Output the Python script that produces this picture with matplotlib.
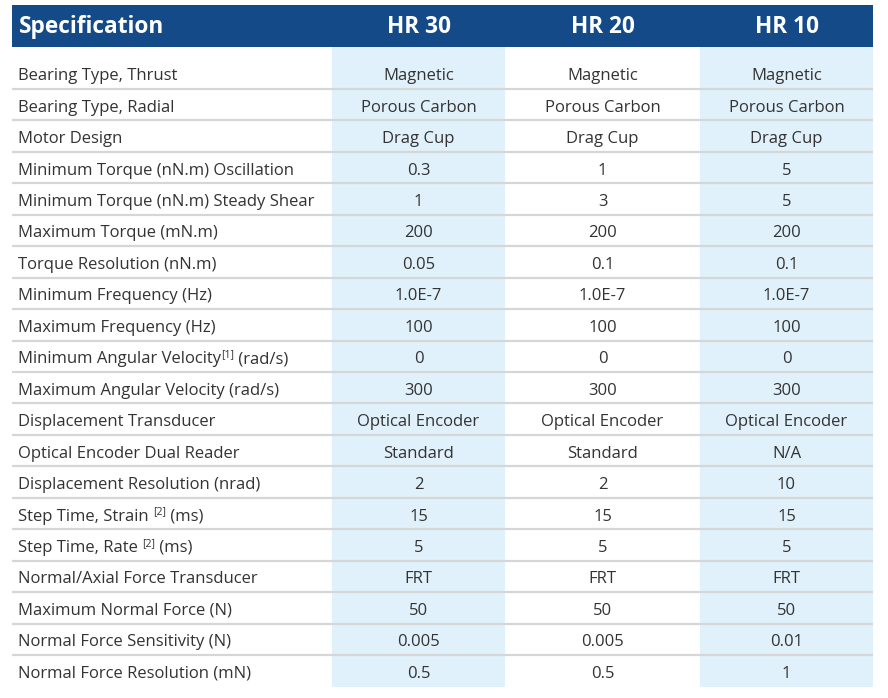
import matplotlib
matplotlib.use("Agg")
import matplotlib.pyplot as plt
from matplotlib.patches import Rectangle

# table content
headers = ["Specification", "HR 30", "HR 20", "HR 10"]
specs = [
    "Bearing Type, Thrust",
    "Bearing Type, Radial",
    "Motor Design",
    "Minimum Torque (nN.m) Oscillation",
    "Minimum Torque (nN.m) Steady Shear",
    "Maximum Torque (mN.m)",
    "Torque Resolution (nN.m)",
    "Minimum Frequency (Hz)",
    "Maximum Frequency (Hz)",
    "Minimum Angular Velocity|[1]| (rad/s)",
    "Maximum Angular Velocity (rad/s)",
    "Displacement Transducer",
    "Optical Encoder Dual Reader",
    "Displacement Resolution (nrad)",
    "Step Time, Strain |[2]| (ms)",
    "Step Time, Rate |[2]| (ms)",
    "Normal/Axial Force Transducer",
    "Maximum Normal Force (N)",
    "Normal Force Sensitivity (N)",
    "Normal Force Resolution (mN)",
]
hr30 = ["Magnetic", "Porous Carbon", "Drag Cup", "0.3", "1", "200", "0.05", "1.0E-7",
        "100", "0", "300", "Optical Encoder", "Standard", "2", "15", "5", "FRT", "50",
        "0.005", "0.5"]
hr20 = ["Magnetic", "Porous Carbon", "Drag Cup", "1", "3", "200", "0.1", "1.0E-7",
        "100", "0", "300", "Optical Encoder", "Standard", "2", "15", "5", "FRT", "50",
        "0.005", "0.5"]
hr10 = ["Magnetic", "Porous Carbon", "Drag Cup", "5", "5", "200", "0.1", "1.0E-7",
        "100", "0", "300", "Optical Encoder", "N/A", "10", "15", "5", "FRT", "50",
        "0.01", "1"]

HEADER_BG = "#154a89"
BLUE_BG = "#e0f1fb"
LINE = "#d6d6d6"
TXT = "#333333"
FONT = "Open Sans"

W, H = 888, 698
fig = plt.figure(figsize=(W / 100, H / 100), dpi=100)
ax = fig.add_axes([0, 0, 1, 1])
ax.set_xlim(0, W)
ax.set_ylim(H, 0)
ax.axis("off")

x_left, x_right = 12, 873
col_edges = [x_left, 332, 505, 700, x_right]
col_centers = [(col_edges[i] + col_edges[i + 1]) / 2 for i in range(1, 4)]
head_top, head_bot = 5, 47
row_top = 57.5
row_h = 31.45
n = len(specs)
table_bot = row_top + n * row_h

# header bar
ax.add_patch(Rectangle((x_left, head_top), x_right - x_left, head_bot - head_top,
                       color=HEADER_BG, lw=0))
head_base = 33
ax.text(19, head_base, headers[0], color="white", fontsize=16.3,
        fontweight="bold", family=FONT, ha="left", va="baseline")
for cx, h in zip(col_centers, headers[1:]):
    ax.text(cx, head_base, h, color="white", fontsize=16.3,
            fontweight="bold", family=FONT, ha="center", va="baseline")

# shaded columns
for i in (1, 3):
    ax.add_patch(Rectangle((col_edges[i], head_bot), col_edges[i + 1] - col_edges[i],
                           table_bot - head_bot, color=BLUE_BG, lw=0))

# row separators
for r in range(n - 1):
    y = row_top + (r + 1) * row_h
    ax.plot([x_left, x_right], [y, y], color=LINE, lw=1.6, solid_capstyle="butt")

fig.canvas.draw()
renderer = fig.canvas.get_renderer()

for r in range(n):
    yb = row_top + (r + 0.5) * row_h + 7
    parts = specs[r].split("|")
    x = 18
    for k, p in enumerate(parts):
        sup = k % 2 == 1
        t = ax.text(x, yb - (6 if sup else 0), p, color=TXT, family=FONT,
                    fontsize=7.5 if sup else 12, ha="left", va="baseline")
        bb = t.get_window_extent(renderer)
        x += bb.width
    for cx, col in zip(col_centers, (hr30, hr20, hr10)):
        ax.text(cx, yb, col[r], color=TXT, family=FONT, fontsize=12,
                ha="center", va="baseline")

fig.savefig("out.png", dpi=100)
